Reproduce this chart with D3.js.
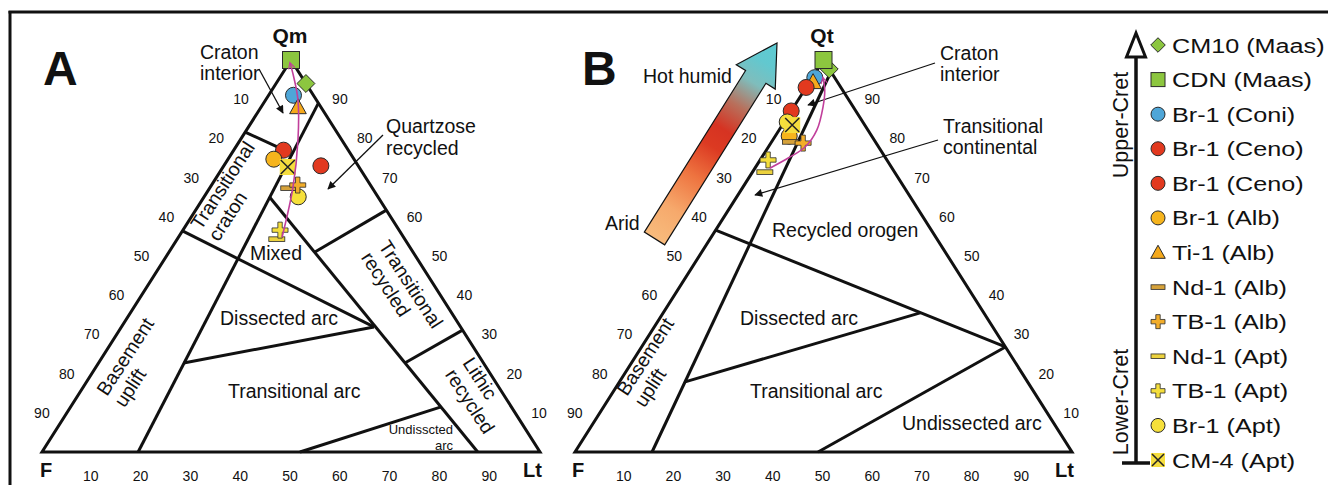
<!DOCTYPE html>
<html><head><meta charset="utf-8">
<script src="https://cdn.jsdelivr.net/npm/d3@7"></script>
<style>
body{margin:0;background:#fff}
svg{display:block}
text{font-family:"Liberation Sans",Arial,Helvetica,sans-serif;fill:#111}
</style>
</head><body>
<svg id="c" width="1328" height="485"></svg>
<script>
// ---------------- DATA ----------------
const samples = ["CM10 (Maas)","CDN (Maas)","Br-1 (Coni)","Br-1 (Ceno)","Br-1 (Ceno)","Br-1 (Alb)","Ti-1 (Alb)","Nd-1 (Alb)","TB-1 (Alb)","Nd-1 (Apt)","TB-1 (Apt)","Br-1 (Apt)","CM-4 (Apt)"];
const shapes  = ["diamond","square","circle","circle","circle","circle","triangle","dash","plus","dash","plus","circle","xsquare"];
const colors  = ["#8cc63f","#8cc63f","#4ea6d8","#e2391f","#e2391f","#f6b41d","#f5a91b","#d6a23a","#f2ad2a","#ecd23e","#f4de3c","#f6e03b","#f5dd3e"];
// Panel A: Qm-F-Lt (%)
const qmA = [94, 100, 91,   77, 73,   74.7, 88,   67.3, 68.1, 54.3, 56.6, 65.1, 72.7];
const fA  = [0,  0,   4,    13, 7.5,  16.1, 4.6,  16.8, 14.6, 25.7, 23.9, 16.0, 14.3];
const ltA = [6,  0,   5,    10, 19.5, 9.2,  7.4,  15.9, 17.3, 20.0, 19.5, 18.9, 13.0];
// Panel B: Qt-F-L (%)
const qtB = [97.7, 100, 95.5, 93, 87, 80.6, 94.4, 79.1, 78.8, 71.4, 74.5, 84.2, 83.4];
const fB  = [0,    0,   4,    7,  13, 16.6, 4.9,  17.1, 14.7, 26.1, 23.9, 15.2, 14.6];
const lB  = [2.3,  0,   0.5,  0,  0,  2.8,  0.7,  3.8,  6.5,  2.5,  1.6,  0.6,  2.0];
const tickValues = [10,20,30,40,50,60,70,80,90];
// Provenance field boundaries, endpoints as [Q, Lt] (%)
const fieldsA = [
  [[0,19.3],[89,11]],
  [[81.6,0],[76,12.4]],
  [[56.4,0],[31.9,50.7]],
  [[65.1,13.1],[0,87.5]],
  [[51,29.3],[61.7,38.3]],
  [[22.7,61.5],[31.1,68.9]],
  [[22.7,17.1],[31.9,50.7]],
  [[0,51.8],[11.5,74.4]]
];
const fieldsB = [
  [[0,15.5],[97,3]],
  [[56.6,0],[26.8,73.2]],
  [[17.9,13.2],[35.5,51.7]],
  [[0,48.9],[26.8,73.2]]
];
// evolution trends (Q, Lt) %
const trendA = [[54.8,20.8],[67.6,16.6],[79.6,11.6],[89.8,6.5],[96.7,2.0],[99.2,0.2]];
const trendB = [[72.4,3.0],[75,5.4],[77.8,7.4],[82.1,7.6],[88,5.9],[92.3,4.1],[95.4,2.2]];
const drawOrder = [0,1,2,6,3,4,5,11,12,9,10,7,8];

// ---------------- SETUP ----------------
const svg = d3.select("#c");
const defs = svg.append("defs");
defs.append("marker").attr("id","blk").attr("viewBox","0 0 10 10").attr("refX",9).attr("refY",5)
  .attr("markerWidth",10).attr("markerHeight",8).attr("markerUnits","userSpaceOnUse").attr("orient","auto")
  .append("path").attr("d","M0,0 L10,5 L0,10 Z").attr("fill","#111");
defs.append("marker").attr("id","pnk").attr("viewBox","0 0 10 10").attr("refX",8).attr("refY",5)
  .attr("markerWidth",8).attr("markerHeight",7).attr("markerUnits","userSpaceOnUse").attr("orient","auto")
  .append("path").attr("d","M0,0.5 L9,5 L0,9.5").attr("fill","none").attr("stroke","#c13f9b").attr("stroke-width",1.6);

function panel(x0, x1){
  const sx = d3.scaleLinear().domain([0,100]).range([x0,x1]);
  const sy = d3.scaleLinear().domain([0,100]).range([452,60]);
  const pt = (q, lt) => [sx(lt + q/2), sy(q)];
  return {sx, sy, pt};
}
const PA = panel(42,540), PB = panel(575,1072);

// frame
svg.append("line").attr("x1",8.5).attr("x2",1328).attr("y1",12).attr("y2",12).attr("stroke","#111").attr("stroke-width",3);
svg.append("line").attr("x1",10).attr("x2",10).attr("y1",11).attr("y2",485).attr("stroke","#111").attr("stroke-width",3);

function txt(g, s, x, y, opt={}){
  const t = g.append("text").attr("x",x).attr("y",y).text(s)
    .attr("font-size", opt.size||19.5);
  if(opt.bold) t.attr("font-weight","bold");
  if(opt.anchor) t.attr("text-anchor",opt.anchor);
  return t;
}
function rtxt(g, s, x, y, ang, size){
  return g.append("text").attr("transform",`translate(${x},${y}) rotate(${ang})`).attr("font-size",size||19.5).text(s);
}

function drawTriangle(P, fields){
  const g = svg.append("g");
  const line = d3.line();
  g.append("path").attr("d", line([P.pt(0,0), P.pt(0,100), P.pt(100,0)]) + "Z")
    .attr("fill","none").attr("stroke","#111").attr("stroke-width",3).attr("stroke-linejoin","miter");
  fields.forEach(f => {
    g.append("path").attr("d", line([P.pt(f[0][0],f[0][1]), P.pt(f[1][0],f[1][1])]))
      .attr("fill","none").attr("stroke","#111").attr("stroke-width",3);
  });
  // ticks
  tickValues.forEach(v => {
    const l = P.pt(100-v, 0);      // left edge, F%
    txt(g, v, l[0]-25, l[1]+5, {size:14, anchor:"middle"});
    const r = P.pt(v, 100-v);      // right edge, Q%
    txt(g, v, r[0]+24, r[1]+5, {size:14, anchor:"middle"});
    const b = P.pt(0, v);          // bottom, L%
    txt(g, v, b[0]-1, 481, {size:14, anchor:"middle"});
  });
  return g;
}

function drawMarker(g, shape, color, cx, cy, s){
  const st = "#2a2a2a", sw = 1;
  if(shape==="circle"){
    g.append("circle").attr("cx",cx).attr("cy",cy).attr("r",s/2).attr("fill",color).attr("stroke",st).attr("stroke-width",sw);
  } else if(shape==="square"){
    g.append("rect").attr("x",cx-s/2).attr("y",cy-s/2).attr("width",s).attr("height",s).attr("fill",color).attr("stroke",st).attr("stroke-width",sw);
  } else if(shape==="xsquare"){
    g.append("rect").attr("x",cx-s/2).attr("y",cy-s/2).attr("width",s).attr("height",s).attr("fill",color).attr("stroke","none");
    const h = s/2-1;
    g.append("path").attr("d",`M${cx-h},${cy-h}L${cx+h},${cy+h}M${cx+h},${cy-h}L${cx-h},${cy+h}`).attr("stroke","#222").attr("stroke-width",1.5);
  } else if(shape==="diamond"){
    const h = s*0.56;
    g.append("path").attr("d",`M${cx},${cy-h}L${cx+h},${cy}L${cx},${cy+h}L${cx-h},${cy}Z`).attr("fill",color).attr("stroke",st).attr("stroke-width",sw);
  } else if(shape==="triangle"){
    const h = s*0.52;
    g.append("path").attr("d",`M${cx},${cy-h}L${cx+h},${cy+h*0.8}L${cx-h},${cy+h*0.8}Z`).attr("fill",color).attr("stroke",st).attr("stroke-width",sw);
  } else if(shape==="dash"){
    g.append("rect").attr("x",cx-s/2).attr("y",cy-2.3).attr("width",s).attr("height",4.6).attr("fill",color).attr("stroke",st).attr("stroke-width",0.8);
  } else if(shape==="plus"){
    const a = s/2, t = 2.2;
    const p = [[-t,-a],[t,-a],[t,-t],[a,-t],[a,t],[t,t],[t,a],[-t,a],[-t,t],[-a,t],[-a,-t],[-t,-t]];
    g.append("path").attr("d","M"+p.map(d=>(cx+d[0])+","+(cy+d[1])).join("L")+"Z").attr("fill",color).attr("stroke",st).attr("stroke-width",0.8);
  }
}

function drawPoints(P, qs, ls){
  const g = svg.append("g");
  drawOrder.forEach(i => {
    const p = P.pt(qs[i], ls[i]);
    const s = shapes[i]==="square" ? 17 : 16;
    drawMarker(g, shapes[i], colors[i], p[0], p[1], s);
  });
  return g;
}
function drawTrend(P, tr){
  const pts = tr.map(d => P.pt(d[0], d[1]));
  svg.append("path").attr("d", d3.line().curve(d3.curveCatmullRom)(pts))
    .attr("fill","none").attr("stroke","#c13f9b").attr("stroke-width",1.6).attr("marker-end","url(#pnk)");
}
function arrow(x1,y1,x2,y2){
  svg.append("line").attr("x1",x1).attr("y1",y1).attr("x2",x2).attr("y2",y2)
    .attr("stroke","#111").attr("stroke-width",1.3).attr("marker-end","url(#blk)");
}

// ---------------- PANEL A ----------------
const gA = drawTriangle(PA, fieldsA);
txt(gA,"A",43,85,{size:48,bold:true});
txt(gA,"Qm",290,43,{size:21,bold:true,anchor:"middle"});
txt(gA,"F",40,477,{size:20,bold:true});
txt(gA,"Lt",523,477,{size:20,bold:true});
txt(gA,"Craton",200,59); txt(gA,"interior",200,80);
txt(gA,"Quartzose",386,133); txt(gA,"recycled",386,155);
txt(gA,"Mixed",250,260);
txt(gA,"Dissected arc",220,325);
txt(gA,"Transitional arc",228,398);
txt(gA,"Undisscted",453,434,{size:13,anchor:"end"});
txt(gA,"arc",453,450,{size:13,anchor:"end"});
rtxt(gA,"Transitional",201,231,-57); rtxt(gA,"craton",218.5,242.5,-57);
rtxt(gA,"Basement",107,397,-57); rtxt(gA,"uplift",124.5,408.5,-57);
rtxt(gA,"Transitional",378,246,57); rtxt(gA,"recycled",360.5,257.5,57);
rtxt(gA,"Lithic",462,363,57); rtxt(gA,"recycled",444.5,374.5,57);
arrow(259,69,283,113);
arrow(383,135,328,189);

// ---------------- PANEL B ----------------
const gB = drawTriangle(PB, fieldsB);
txt(gB,"B",582,85,{size:48,bold:true});
txt(gB,"Qt",822,43,{size:21,bold:true,anchor:"middle"});
txt(gB,"F",572,477,{size:20,bold:true});
txt(gB,"Lt",1055,477,{size:20,bold:true});
txt(gB,"Craton",940,60); txt(gB,"interior",940,81);
txt(gB,"Transitional",943,133); txt(gB,"continental",943,154);
txt(gB,"Recycled orogen",772,237);
txt(gB,"Dissected arc",740,325);
txt(gB,"Transitional arc",750,398);
txt(gB,"Undissected arc",902,430);
rtxt(gB,"Basement",627,397,-57); rtxt(gB,"uplift",644.5,408.5,-57);
txt(gB,"Hot humid",643,83);
txt(gB,"Arid",605,230);
arrow(935,63,808,105);
arrow(938,140,755,195);

// climate gradient arrow
(function(){
  const T=[654.5,238.5], P=[777,43];
  const dx=P[0]-T[0], dy=P[1]-T[1], L=Math.hypot(dx,dy);
  const u=[dx/L,dy/L], n=[-u[1],u[0]];
  const w=12, hl=40, hw=23;
  const H=[P[0]-u[0]*hl, P[1]-u[1]*hl];
  const at=(b,k)=>[b[0]+n[0]*k, b[1]+n[1]*k];
  const poly=[at(T,w),at(H,w),at(H,hw),P,at(H,-hw),at(H,-w),at(T,-w)];
  const gr = defs.append("linearGradient").attr("id","clim").attr("gradientUnits","userSpaceOnUse")
    .attr("x1",T[0]).attr("y1",T[1]).attr("x2",P[0]).attr("y2",P[1]);
  [[0,"#f8bb7c"],[0.15,"#f6a96c"],[0.32,"#ee7440"],[0.47,"#dc3a22"],[0.56,"#d63322"],[0.68,"#b8705c"],[0.8,"#7fbdbc"],[0.9,"#62c8cf"],[1,"#5ccbd3"]]
    .forEach(s=>gr.append("stop").attr("offset",s[0]).attr("stop-color",s[1]));
  svg.append("path").attr("d",d3.line()(poly)+"Z").attr("fill","url(#clim)").attr("stroke","#111").attr("stroke-width",1.2).attr("stroke-linejoin","miter");
})();

drawPoints(PA, qmA, ltA);
drawPoints(PB, qtB, lB);
drawTrend(PA, trendA);
drawTrend(PB, trendB);

// ---------------- LEGEND ----------------
const gL = svg.append("g");
gL.append("line").attr("x1",1136).attr("x2",1136).attr("y1",464).attr("y2",56).attr("stroke","#111").attr("stroke-width",3.5);
gL.append("path").attr("d","M1136,33 L1145.5,57 L1126.5,57 Z").attr("fill","#fff").attr("stroke","#111").attr("stroke-width",3).attr("stroke-linejoin","miter");
gL.append("line").attr("x1",1122).attr("x2",1150).attr("y1",463).attr("y2",463).attr("stroke","#111").attr("stroke-width",3.5);
gL.append("text").attr("transform","translate(1128,125) rotate(-90)").attr("text-anchor","middle").attr("font-size",21.5).text("Upper-Cret");
gL.append("text").attr("transform","translate(1128,402) rotate(-90)").attr("text-anchor","middle").attr("font-size",21.5).text("Lower-Cret");
const ly = d3.scaleLinear().domain([0, samples.length-1]).range([45, 460]);
samples.forEach((s,i) => {
  const y = ly(i);
  drawMarker(gL, shapes[i], colors[i], 1158, y, shapes[i]==="diamond"?13:14);
  gL.append("text").attr("transform",`translate(1172,${y+7.5}) scale(1.2,1)`).attr("font-size",21).text(s);
});
</script>
</body></html>
